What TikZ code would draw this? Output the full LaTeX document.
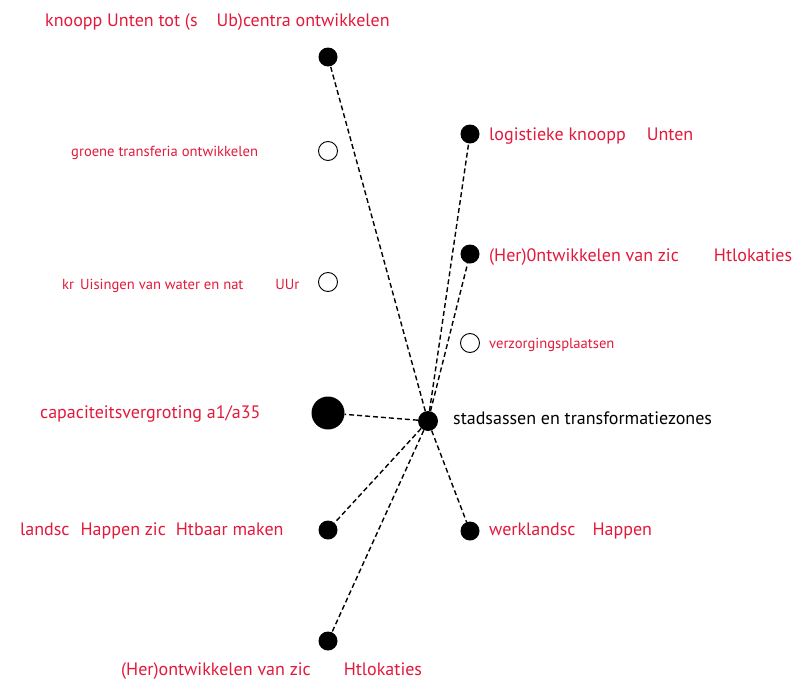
\documentclass[tikz,border=0pt]{standalone}
\usepackage{fontspec}
\setmainfont{PT Sans}
\usetikzlibrary{positioning}
\definecolor{labelred}{HTML}{E3193B}
\tikzset{
  dot/.style    ={circle, fill=black, minimum size=19pt, inner sep=0pt},
  hole/.style   ={circle, draw=black, line width=0.9pt, fill=white, minimum size=19pt, inner sep=0pt},
  bigdot/.style ={circle, fill=black, minimum size=33pt, inner sep=0pt},
  hub/.style    ={circle, fill=black, minimum size=20pt, inner sep=0pt},
  lbl/.style    ={text=labelred, font=\fontsize{18}{20}\selectfont, inner sep=0pt, anchor=base west},
  lblsmall/.style={lbl, font=\fontsize{14.6}{16}\selectfont},
  link/.style   ={draw=black, line width=1.4pt, dash pattern=on 5pt off 3pt},
}
\begin{document}
\begin{tikzpicture}[x=1pt, y=-1pt]
\useasboundingbox (0,0) rectangle (804,680);
% nodes
\node[hub]    (hub)    at (428,421) {};
\node[dot]    (knoop)  at (328,57)  {};
\node[hole]   (trans)  at (328,151) {};
\node[hole]   (water)  at (328,282) {};
\node[bigdot] (capa)   at (328,413) {};
\node[dot]    (landsc) at (328,530) {};
\node[dot]    (herlo)  at (328,641) {};
\node[dot]    (logist) at (470,134) {};
\node[dot]    (herup)  at (470,254) {};
\node[hole]   (verz)   at (470,343) {};
\node[dot]    (werk)   at (470,531) {};
% labels
\node[lbl] (knooplbl) at (45,27) {knoopp Unten tot (s\hspace{19pt}Ub)centra ontwikkelen};
\node[lblsmall] (translbl) at (71,156) {groene transferia ontwikkelen};
\node[lblsmall] (waterlbl) at (62,289) {kr\hspace{6pt}Uisingen van water en nat\hspace{32pt}UUr};
\node[lbl] (capalbl) at (40,418) {capaciteitsvergroting a1/a35};
\node[lbl] (landsclbl) at (20,535) {landsc\hspace{11pt}Happen zic\hspace{10pt}Htbaar maken};
\node[lbl] (herlolbl) at (121,675) {(Her)ontwikkelen van zic\hspace{33pt}Htlokaties};
\node[lbl] (logistlbl) at (489,140) {logistieke knoopp\hspace{21pt}Unten};
\node[lbl] (heruplbl) at (489,261) {(Her)0ntwikkelen van zic\hspace{35pt}Htlokaties};
\node[lblsmall] (verzlbl) at (489,348) {verzorgingsplaatsen};
\node[lbl, text=black] (hublbl) at (453,424) {stadsassen en transformatiezones};
\node[lbl] (werklbl) at (489,535) {werklandsc\hspace{17pt}Happen};
% links
\foreach \n in {knoop,capa,landsc,herlo,logist,herup,werk}
  \draw[link] (hub) -- (\n);
\end{tikzpicture}
\end{document}
